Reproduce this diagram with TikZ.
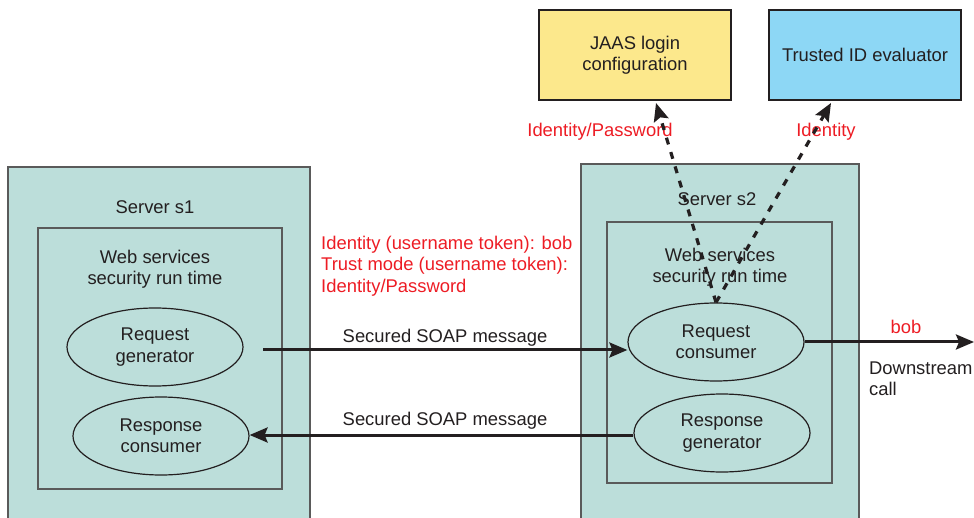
\documentclass[tikz,border=0pt]{standalone}
\usepackage{fontspec}
\setmainfont{Liberation Sans}
\usetikzlibrary{arrows.meta,shapes.geometric}
\definecolor{teal1}{RGB}{188,222,218}
\definecolor{jaasy}{RGB}{252,232,140}
\definecolor{trustb}{RGB}{141,215,245}
\definecolor{txt}{RGB}{35,31,32}
\definecolor{redt}{RGB}{237,28,36}
\definecolor{bord}{RGB}{90,90,90}
\tikzset{
  every node/.style={font=\fontsize{18.4}{21.5}\selectfont, text=txt},
  outerbox/.style={draw=bord, line width=1.3pt, fill=teal1, rectangle, inner sep=0pt},
  innerbox/.style={draw=bord, line width=1.2pt, rectangle, inner sep=0pt},
  topbox/.style={draw=txt, line width=1.2pt, rectangle, inner sep=0pt, minimum width=192pt, minimum height=90pt, align=center},
  oval/.style={draw=txt, line width=1.2pt, ellipse, fill=teal1, minimum width=176pt, minimum height=78pt, inner sep=0pt, align=center},
  tip/.style={-{Stealth[length=18pt,width=15pt,inset=3pt]}},
  arr/.style={draw=txt, line width=3pt, tip},
  darr/.style={draw=txt, line width=3.2pt, dash pattern=on 7pt off 8pt, tip},
  redlbl/.style={text=redt}
}
\begin{document}
\begin{tikzpicture}[x=1pt,y=-1pt]
\useasboundingbox (0,0) rectangle (974,518);
\clip (0,0) rectangle (974,518);
% servers
\node[outerbox, minimum width=302pt, minimum height=362pt] (s1) at (159,348) {};
\node[outerbox, minimum width=278pt, minimum height=365pt] (s2) at (720,346.5) {};
\node[innerbox, minimum width=244pt, minimum height=261pt] (in1) at (160,358.5) {};
\node[innerbox, minimum width=225pt, minimum height=261pt] (in2) at (719.5,352.5) {};
% top boxes
\node[topbox, fill=jaasy] (jaas) at (635,55) {JAAS login\\configuration};
\node[topbox, fill=trustb] (trust) at (865,55) {Trusted ID evaluator};
% labels
\node (s1lbl) at (155,207) {Server s1};
\node (s2lbl) at (717,199) {Server s2};
\node[align=center] (w1) at (155,269) {Web services\\security run time};
\node[align=center] (w2) at (720,267) {Web services\\security run time};
% ellipses
\node[oval] (rg) at (155,347) {Request\\generator};
\node[oval] (rc1) at (161,436) {Response\\consumer};
\node[oval] (rc) at (716,342) {Request\\consumer};
\node[oval] (rgen) at (722,433) {Response\\generator};
% red texts
\node[redlbl, align=left, anchor=west, inner sep=0pt] (idtxt) at (321,266) {Identity (username token): bob\\Trust mode (username token):\\Identity/Password};
\node[redlbl] (idpw) at (600,132) {Identity/Password};
\node[redlbl] (idl) at (826,132) {Identity};
\node[redlbl] (bob) at (906,327) {bob};
\node[align=left, anchor=west, inner sep=0pt] (down) at (869,379) {Downstream\\call};
% message labels
\node (m1) at (445,338) {Secured SOAP message};
\node (m2) at (445,421) {Secured SOAP message};
% connectors
\coordinate (a1s) at (263,350);
\draw[arr] (a1s) -- (a1s -| rc.west);
\coordinate (a2s) at (634,435);
\draw[arr] (rgen.west |- a2s) -- (rc1.east |- a2s);
\coordinate (dend) at (974,342);
\draw[arr] (rc.east) -- (dend);
\coordinate (jt) at (656,103);
\coordinate (tt) at (831,103);
\draw[darr] (rc.north) -- (jt);
\draw[darr] (rc.north) -- (tt);
\end{tikzpicture}
\end{document}
